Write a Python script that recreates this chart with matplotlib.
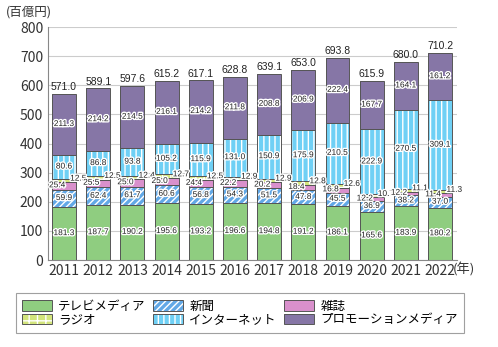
import numpy as np
import matplotlib
matplotlib.use('Agg')
import matplotlib.pyplot as plt
import matplotlib.patheffects as pe

plt.rcParams['font.family'] = ['Noto Sans CJK JP', 'DejaVu Sans']
plt.rcParams['hatch.linewidth'] = 1.0

years = ['2011', '2012', '2013', '2014', '2015', '2016', '2017', '2018', '2019', '2020', '2021', '2022']
tv = [181.3, 187.7, 190.2, 195.6, 193.2, 196.6, 194.8, 191.2, 186.1, 165.6, 183.9, 180.2]
newspaper = [59.9, 62.4, 61.7, 60.6, 56.8, 54.3, 51.5, 47.8, 45.5, 36.9, 38.2, 37.0]
magazine = [25.4, 25.5, 25.0, 25.0, 24.4, 22.2, 20.2, 18.4, 16.8, 12.2, 12.2, 11.4]
radio = [12.5, 12.5, 12.4, 12.7, 12.5, 12.9, 12.9, 12.8, 12.6, 10.7, 11.1, 11.3]
internet = [80.6, 86.8, 93.8, 105.2, 115.9, 131.0, 150.9, 175.9, 210.5, 222.9, 270.5, 309.1]
promotion = [211.3, 214.2, 214.5, 216.1, 214.2, 211.8, 208.8, 206.9, 222.4, 167.7, 164.1, 161.2]
totals = [571.0, 589.1, 597.6, 615.2, 617.1, 628.8, 639.1, 653.0, 693.8, 615.9, 680.0, 710.2]

series = [
    ('テレビメディア', tv, '#8fcd80', None),
    ('新聞', newspaper, '#62a8e6', '/////'),
    ('雑誌', magazine, '#d990cc', None),
    ('ラジオ', radio, '#d3e57c', '++'),
    ('インターネット', internet, '#6fd0f5', '|||'),
    ('プロモーションメディア', promotion, '#8676a6', None),
]

fig = plt.figure(figsize=(4.98, 3.47), dpi=100)
ax = fig.add_axes([0.0964, 0.2507, 0.8216, 0.6713])

x = np.arange(len(years))
w = 0.70
bottom = np.zeros(len(years))
handles = {}
for name, vals, color, hatch in series:
    vals = np.array(vals)
    b = ax.bar(x, vals, w, bottom=bottom, color=color, edgecolor='white' if hatch else color,
               hatch=hatch, linewidth=0, zorder=2)
    o = ax.bar(x, vals, w, bottom=bottom, fill=False, edgecolor='#555555', linewidth=0.7, zorder=3)
    handles[name] = (b, o)
    bottom = bottom + vals

narrow = ['Liberation Sans Narrow', 'Liberation Sans', 'DejaVu Sans']
stroke = [pe.withStroke(linewidth=2, foreground='white')]
lab = dict(fontsize=6, ha='center', va='center', zorder=5, path_effects=stroke,
           color='#222222', family=narrow)

for i in x:
    b0 = tv[i]
    ax.text(i, b0 / 2, f'{tv[i]:.1f}', **lab)
    ax.text(i, b0 + newspaper[i] / 2, f'{newspaper[i]:.1f}', **lab)
    b1 = b0 + newspaper[i]
    ax.text(i - 0.2, b1 + magazine[i] * 0.5 + 1, f'{magazine[i]:.1f}', **lab)
    b2 = b1 + magazine[i]
    ax.text(i + 0.42, b2 + radio[i] / 2 + 5, f'{radio[i]:.1f}', **lab)
    b3 = b2 + radio[i]
    ax.text(i, b3 + internet[i] / 2, f'{internet[i]:.1f}', **lab)
    b4 = b3 + internet[i]
    ax.text(i, b4 + promotion[i] / 2, f'{promotion[i]:.1f}', **lab)
    ax.text(i, totals[i] + 6, f'{totals[i]:.1f}', fontsize=7.5, ha='center', va='bottom',
            color='#222222', zorder=5, family=narrow)

ax.set_xlim(-0.47, 11.5)
ax.set_ylim(0, 800)
ax.set_yticks(range(0, 801, 100))
ax.set_xticks(x)
ax.set_xticklabels(years)
ax.tick_params(length=0, labelsize=10, colors='#333333')
ax.tick_params(axis='x', pad=3)
ax.grid(axis='y', color='#cccccc', linewidth=0.8, zorder=0)
ax.set_axisbelow(True)
for s in ['top', 'right']:
    ax.spines[s].set_visible(False)
for s in ['left', 'bottom']:
    ax.spines[s].set_color('#888888')
    ax.spines[s].set_linewidth(0.8)

fig.text(0.012, 0.965, '(百億円)', fontsize=9, ha='left', va='center', color='#333333')
ax.text(11.38, -8, '(年)', fontsize=9.5, ha='left', va='top', color='#333333')

order = ['テレビメディア', 'ラジオ', '新聞', 'インターネット', '雑誌', 'プロモーションメディア']
leg = fig.legend([handles[n] for n in order], order, ncol=3, loc='center',
                 bbox_to_anchor=(0.482, 0.098), fontsize=9, frameon=True, fancybox=False,
                 handlelength=2.4, handleheight=0.9, columnspacing=0.6, labelspacing=0.05,
                 handletextpad=0.5, borderpad=0.5)
leg.get_frame().set_edgecolor('#888888')
leg.get_frame().set_linewidth(0.8)

fig.savefig('out.png', dpi=100)
